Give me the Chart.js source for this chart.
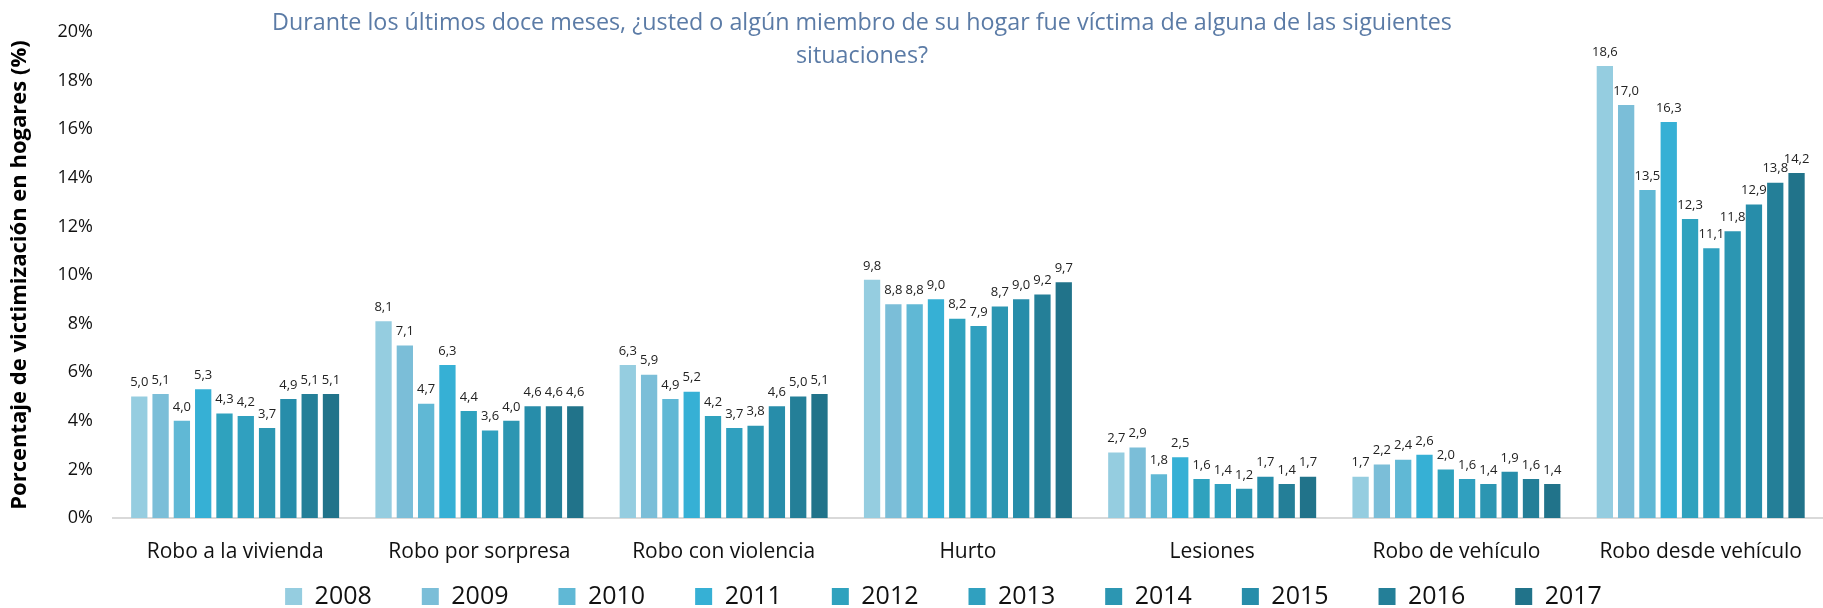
<!DOCTYPE html>
<html>
<head>
<meta charset="utf-8">
<script src="https://cdn.jsdelivr.net/npm/chart.js@4.4.1/dist/chart.umd.min.js"></script>
<style>
  html, body { margin: 0; padding: 0; background: #fff; }
  #wrap { width: 1823px; height: 608px; }
</style>
</head>
<body>
<div id="wrap"><canvas id="victim"></canvas></div>
<script>
const categories = ["Robo a la vivienda", "Robo por sorpresa", "Robo con violencia", "Hurto", "Lesiones", "Robo de vehículo", "Robo desde vehículo"]
const years = ["2008", "2009", "2010", "2011", "2012", "2013", "2014", "2015", "2016", "2017"]

const s2008 = [5.0, 8.1, 6.3, 9.8, 2.7, 1.7, 18.6]
const s2009 = [5.1, 7.1, 5.9, 8.8, 2.9, 2.2, 17.0]
const s2010 = [4.0, 4.7, 4.9, 8.8, 1.8, 2.4, 13.5]
const s2011 = [5.3, 6.3, 5.2, 9.0, 2.5, 2.6, 16.3]
const s2012 = [4.3, 4.4, 4.2, 8.2, 1.6, 2.0, 12.3]
const s2013 = [4.2, 3.6, 3.7, 7.9, 1.4, 1.6, 11.1]
const s2014 = [3.7, 4.0, 3.8, 8.7, 1.2, 1.4, 11.8]
const s2015 = [4.9, 4.6, 4.6, 9.0, 1.7, 1.9, 12.9]
const s2016 = [5.1, 4.6, 5.0, 9.2, 1.4, 1.6, 13.8]
const s2017 = [5.1, 4.6, 5.1, 9.7, 1.7, 1.4, 14.2]
const series = [s2008, s2009, s2010, s2011, s2012, s2013, s2014, s2015, s2016, s2017]

const yTicks = [0, 2, 4, 6, 8, 10, 12, 14, 16, 18, 20]

const colors = ["#95cde0", "#7bbed8", "#60b8d5", "#36b0d5", "#2fa2be", "#30a0bf", "#2c96b2", "#278daa", "#247f98", "#21738a"]

const titleLines = ["Durante los últimos doce meses, ¿usted o algún miembro de su hogar fue víctima de alguna de las siguientes", "situaciones?"]

const FONT = "'Open Sans', 'Noto Sans', sans-serif"

// etiquetas de valor sobre cada barra (coma decimal)
const barLabels = {
    id: "barLabels",
    afterDatasetsDraw(chart) {
        const ctx = chart.ctx
        ctx.save()
        ctx.font = "13px " + FONT
        ctx.fillStyle = "#222"
        ctx.textAlign = "center"
        ctx.textBaseline = "middle"
        chart.data.datasets.forEach((ds, i) => {
            chart.getDatasetMeta(i).data.forEach((bar, j) => {
                ctx.fillText(ds.data[j].toFixed(1).replace(".", ","), bar.x, bar.y - 14)
            })
        })
        ctx.restore()
    }
}

// titulo dentro del area, como en el original
const topTitle = {
    id: "topTitle",
    afterDraw(chart) {
        const ctx = chart.ctx
        ctx.save()
        ctx.font = "23.3px " + FONT
        ctx.fillStyle = "#5b7ba6"
        ctx.textAlign = "center"
        ctx.textBaseline = "middle"
        ctx.fillText(titleLines[0], 862, 23)
        ctx.fillText(titleLines[1], 862, 56)
        ctx.restore()
    }
}

// la leyenda queda pegada abajo, un poco a la derecha
const legendShift = {
    id: "legendShift",
    afterLayout(chart) {
        const lg = chart.legend
        lg.top = 534
        lg.bottom = 608
        lg.left += 32
        lg.right += 32
    }
}

new Chart(document.getElementById("victim"), {
    type: "bar",
    data: {
        labels: categories,
        datasets: years.map((y, i) => ({
            label: y,
            data: series[i],
            backgroundColor: colors[i],
            categoryPercentage: 0.872,
            barPercentage: 0.765
        }))
    },
    options: {
        responsive: true,
        maintainAspectRatio: false,
        animation: false,
        layout: {padding: {top: 32, bottom: 0, left: 0, right: 0}},
        scales: {
            x: {
                grid: {display: false, drawTicks: false},
                border: {display: true, color: "#d9d9d9", width: 2},
                ticks: {font: {family: FONT, size: 21}, color: "#111", padding: 21, maxRotation: 0, autoSkip: false},
                afterFit(scale) { scale.height = 46 }
            },
            y: {
                min: 0, max: 20,
                afterBuildTicks(scale) { scale.ticks = yTicks.map(v => ({value: v})) },
                grid: {display: false, drawTicks: false},
                border: {display: false},
                ticks: {font: {family: FONT, size: 18}, color: "#111", padding: 20, callback: v => v + "%"},
                title: {
                    display: true,
                    text: "Porcentaje de victimización en hogares (%)",
                    font: {family: FONT, size: 22, weight: "bold"},
                    color: "#000",
                    padding: {top: 7, bottom: 0}
                },
                afterFit(scale) { scale.width = 113 }
            }
        },
        plugins: {
            tooltip: {enabled: false},
            title: {display: false},
            legend: {
                position: "bottom",
                maxHeight: 44,
                labels: {
                    boxWidth: 17,
                    boxHeight: 17,
                    padding: 50,
                    color: "#111",
                    font: {family: FONT, size: 25}
                }
            }
        }
    },
    plugins: [barLabels, topTitle, legendShift]
})
</script>
</body>
</html>
